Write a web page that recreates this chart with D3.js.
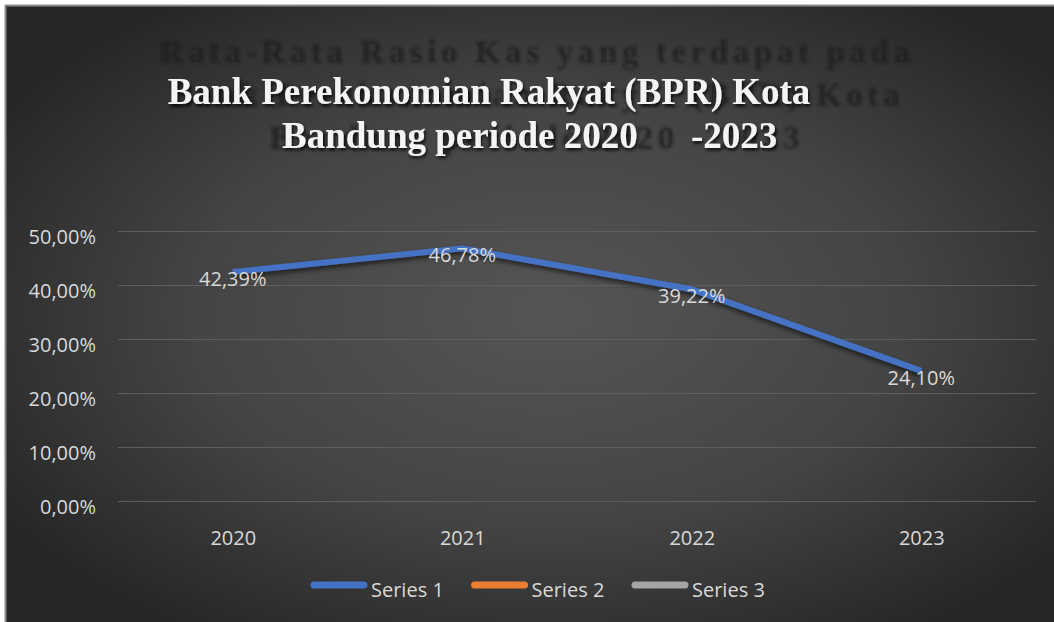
<!DOCTYPE html>
<html>
<head>
<meta charset="utf-8">
<script src="https://cdn.jsdelivr.net/npm/d3@7"></script>
<style>
  body { margin: 0; background: #ffffff; }
  svg { display: block; }
</style>
</head>
<body>
<div id="chart"></div>
<script>
// data
const years = ["2020", "2021", "2022", "2023"];
const series1 = [0.4239, 0.4678, 0.3922, 0.2410];
const yTicks = [0, 0.1, 0.2, 0.3, 0.4, 0.5];
const legendNames = ["Series 1", "Series 2", "Series 3"];
const legendColors = ["#4472C4", "#ED7D31", "#A5A5A5"];
const ghostTitle = ["Rata-Rata Rasio Kas yang terdapat pada", "Bank Perekonomian Rakyat (BPR) Kota", "Bandung periode 2020 - 2023"];
const titleLine1 = "Bank Perekonomian Rakyat (BPR) Kota";
const titleLine2 = ["Bandung periode 2020", "-2023"];

const W = 1054, H = 622;
const plot = { left: 118, right: 1036, top: 231, bottom: 501 };

const idFormat = d3.formatLocale({ decimal: ",", thousands: ".", grouping: [3], currency: ["", ""] });
const pct = idFormat.format(".2%");

const svg = d3.select("#chart").append("svg")
  .attr("width", W)
  .attr("height", H);

const defs = svg.append("defs");

const bg = defs.append("radialGradient")
  .attr("id", "bg")
  .attr("cx", "52%").attr("cy", "50%").attr("r", "62%");
bg.append("stop").attr("offset", "0%").attr("stop-color", "#555555");
bg.append("stop").attr("offset", "55%").attr("stop-color", "#444444");
bg.append("stop").attr("offset", "100%").attr("stop-color", "#262626");

defs.append("filter").attr("id", "blur")
  .append("feGaussianBlur").attr("stdDeviation", 1.6);

defs.append("filter").attr("id", "shadow")
  .attr("x", "-10%").attr("y", "-30%").attr("width", "120%").attr("height", "160%")
  .append("feDropShadow")
  .attr("dx", 1.5).attr("dy", 2.5).attr("stdDeviation", 1.5)
  .attr("flood-color", "#000").attr("flood-opacity", 0.7);

defs.append("filter").attr("id", "lineShadow")
  .attr("x", "-5%").attr("y", "-20%").attr("width", "110%").attr("height", "140%")
  .append("feDropShadow")
  .attr("dx", 0).attr("dy", 3).attr("stdDeviation", 2.5)
  .attr("flood-color", "#000").attr("flood-opacity", 0.6);

// chart area with frame
svg.append("rect")
  .attr("x", 5).attr("y", 5)
  .attr("width", W - 5).attr("height", H - 5)
  .attr("fill", "url(#bg)");
svg.append("line")
  .attr("x1", 5.5).attr("x2", 5.5).attr("y1", 5).attr("y2", H)
  .attr("stroke", "#8a8a8a").attr("stroke-width", 2);
svg.append("line")
  .attr("x1", 5).attr("x2", W).attr("y1", 5.5).attr("y2", 5.5)
  .attr("stroke", "#8a8a8a").attr("stroke-width", 2);

// title: blurred dark ghost behind, white text on top
const ghost = svg.append("g")
  .attr("filter", "url(#blur)")
  .attr("font-family", "'Liberation Serif', 'Times New Roman', serif")
  .attr("font-weight", "bold")
  .attr("font-size", 33)
  .attr("letter-spacing", 4.6)
  .attr("fill", "#1c1c1c")
  .attr("fill-opacity", 0.85)
  .attr("text-anchor", "middle");
ghost.selectAll("text")
  .data(ghostTitle)
  .enter()
  .append("text")
  .attr("x", 537)
  .attr("y", (d, i) => 63 + i * 43)
  .text((d) => d);

const title = svg.append("g")
  .attr("filter", "url(#shadow)")
  .attr("font-family", "'Liberation Serif', 'Times New Roman', serif")
  .attr("font-weight", "bold")
  .attr("font-size", 37)
  .attr("fill", "#f4f4f4");
title.append("text")
  .attr("x", 489).attr("y", 104)
  .attr("text-anchor", "middle")
  .text(titleLine1);
title.append("text")
  .attr("x", 282).attr("y", 148)
  .text(titleLine2[0]);
title.append("text")
  .attr("x", 691).attr("y", 148)
  .text(titleLine2[1]);

// scales
const x = d3.scalePoint()
  .domain(years)
  .range([plot.left, plot.right])
  .padding(0.5);

const y = d3.scaleLinear()
  .domain([0, 0.5])
  .range([plot.bottom, plot.top]);

const font = "'Open Sans', 'Noto Sans', sans-serif";

// gridlines + y labels
const yAxis = svg.append("g")
  .attr("transform", `translate(${plot.left},0)`)
  .call(d3.axisLeft(y)
    .tickValues(yTicks)
    .tickSize(-(plot.right - plot.left))
    .tickPadding(22)
    .tickFormat(pct));
yAxis.select(".domain").remove();
yAxis.selectAll(".tick line")
  .attr("stroke", "#5e5e5e")
  .attr("stroke-width", 1);
yAxis.selectAll(".tick text")
  .attr("fill", "#d9d9d9")
  .attr("font-family", font)
  .attr("font-size", 20)
  .attr("dy", "0.6em");

// x labels
const xAxis = svg.append("g")
  .attr("transform", `translate(0,${plot.bottom})`)
  .call(d3.axisBottom(x).tickSize(0).tickPadding(30));
xAxis.select(".domain").remove();
xAxis.selectAll(".tick text")
  .attr("fill", "#d9d9d9")
  .attr("font-family", font)
  .attr("font-size", 20);

// series line
const line = d3.line()
  .x((d, i) => x(years[i]))
  .y((d) => y(d));

svg.append("path")
  .datum(series1)
  .attr("d", line)
  .attr("fill", "none")
  .attr("stroke", legendColors[0])
  .attr("stroke-width", 6)
  .attr("stroke-linejoin", "round")
  .attr("filter", "url(#lineShadow)");

// data labels
svg.append("g")
  .selectAll("text")
  .data(series1)
  .enter()
  .append("text")
  .attr("x", (d, i) => x(years[i]))
  .attr("y", (d) => y(d) + 14)
  .attr("text-anchor", "middle")
  .attr("font-family", font)
  .attr("font-size", 20)
  .attr("fill", "#d9d9d9")
  .text((d) => pct(d));

// legend
const legendX = d3.scalePoint()
  .domain(legendNames)
  .range([311, 632]);

const legend = svg.append("g")
  .selectAll("g")
  .data(legendNames)
  .enter()
  .append("g")
  .attr("transform", (d) => `translate(${legendX(d)},585)`);
legend.append("line")
  .attr("x1", 3).attr("x2", 53)
  .attr("stroke", (d, i) => legendColors[i])
  .attr("stroke-width", 7)
  .attr("stroke-linecap", "round");
legend.append("text")
  .attr("x", 60)
  .attr("y", 12)
  .attr("font-family", font)
  .attr("font-size", 20)
  .attr("fill", "#d9d9d9")
  .text((d) => d);
</script>
</body>
</html>
